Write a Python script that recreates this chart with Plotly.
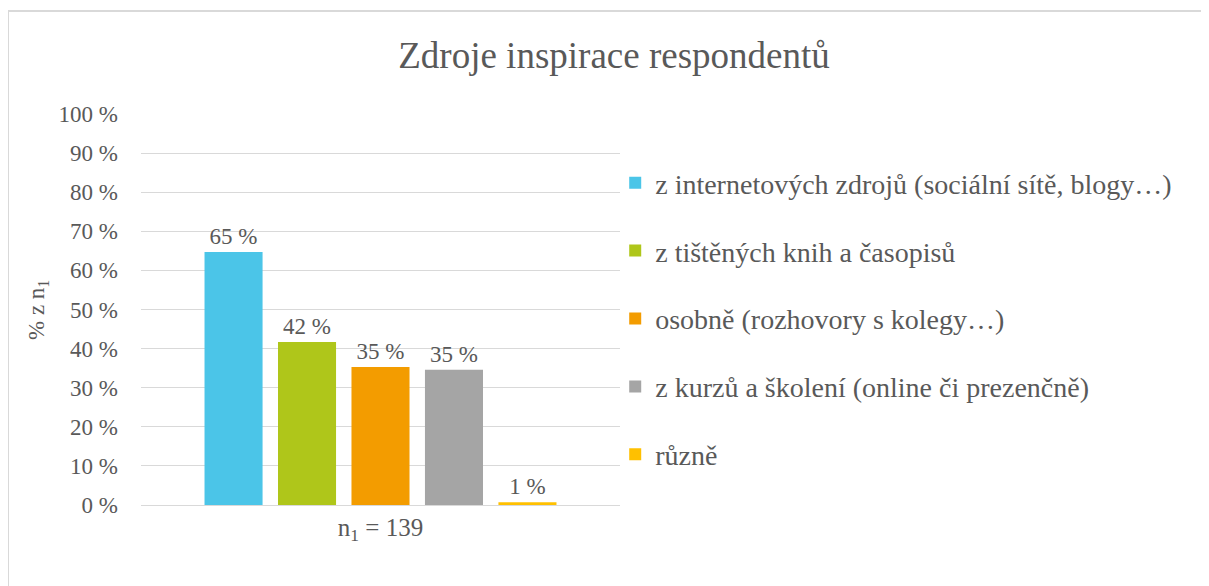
import plotly.graph_objects as go

categories = ["n<sub>1</sub> = 139"]
series_names = [
    "z internetových zdrojů (sociální sítě, blogy…)",
    "z tištěných knih a časopisů",
    "osobně (rozhovory s kolegy…)",
    "z kurzů a školení (online či prezenčně)",
    "různě",
]
series_values = [64.7, 41.7, 35.3, 34.6, 0.7]
colors = ["#4BC5E8", "#AFC61A", "#F39C00", "#A5A5A5", "#FFC000"]
tick_vals = list(range(0, 101, 10))
tick_text = [f"{v} %" for v in tick_vals]

FONT = "Liberation Serif"
TXT = "#595959"

# page body adds an 8px offset; layout coordinates below compensate
OFF = 8
L, T, PW, PH = 141 - OFF, 114 - OFF, 479, 391

fig = go.Figure()
for i, (name, val, col) in enumerate(zip(series_names, series_values, colors)):
    fig.add_trace(go.Bar(
        x=categories, y=[val], name=name, marker=dict(color=col, line=dict(width=0)),
        text=[val], texttemplate="%{y:.0f} %", textposition="outside",
        textfont=dict(family=FONT, size=23, color=TXT), cliponaxis=False,
        legendgroup=f"g{i}",
    ))

fig.update_layout(
    width=1209, height=586,
    margin=dict(l=L, r=1209 - L - PW, t=T, b=586 - T - PH),
    paper_bgcolor="white", plot_bgcolor="white",
    font=dict(family=FONT, color=TXT),
    barmode="group", bargap=0.233, bargroupgap=0.21,
    title=dict(text="Zdroje inspirace respondentů", x=(614 - OFF) / 1209, xanchor="center",
               y=1 - (55 - OFF) / 586, yanchor="middle", yref="container",
               font=dict(family=FONT, size=37, color=TXT)),
    showlegend=True,
    legend=dict(x=0.99, xanchor="left", y=1 - (158 - 114) / 391, yanchor="top",
                font=dict(family=FONT, size=28, color=TXT), tracegroupgap=28.5,
                itemwidth=30, bgcolor="rgba(0,0,0,0)"),
)
fig.update_yaxes(range=[0, 100], tickvals=tick_vals, ticktext=tick_text,
                 showgrid=True, gridcolor="#D9D9D9", gridwidth=1,
                 zeroline=False, showline=False, ticks="",
                 tickfont=dict(family=FONT, size=23, color=TXT), ticklabelstandoff=22)
fig.update_xaxes(showline=True, linecolor="#D9D9D9", linewidth=1, ticks="",
                 tickfont=dict(family=FONT, size=25, color=TXT))

fig.add_annotation(text="% z n<sub>1</sub>", textangle=-90, x=(38 - 141) / 479, y=(505 - 310) / 391,
                   xref="paper", yref="paper", xanchor="center", yanchor="middle", showarrow=False,
                   font=dict(family=FONT, size=23, color=TXT))

# chart area border (only top & left visible)
bx = (8 - 141) / 479
by = (505 - 11) / 391
fig.add_shape(type="line", xref="paper", yref="paper", x0=bx, x1=3, y0=by, y1=by,
              line=dict(color="#D9D9D9", width=2))
fig.add_shape(type="line", xref="paper", yref="paper", x0=bx, x1=bx, y0=by, y1=-1,
              line=dict(color="#D9D9D9", width=2))

fig.write_html("out.html")
